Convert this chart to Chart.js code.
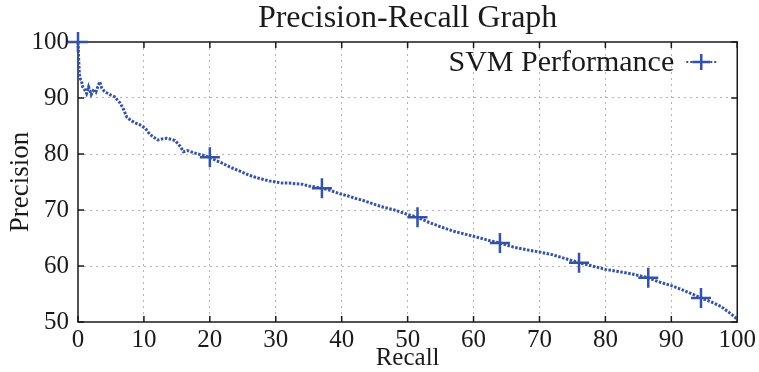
<!DOCTYPE html>
<html><head><meta charset="utf-8">
<script src="https://cdn.jsdelivr.net/npm/chart.js@4.4.0/dist/chart.umd.min.js"></script>
<style>html,body{margin:0;padding:0;background:#fff;overflow:hidden}</style>
</head><body>
<canvas id="c" width="759" height="372" style="width:759px;height:372px;display:block"></canvas>
<script>
const chartTitle = 'Precision-Recall Graph';
const xTitle = 'Recall';
const yTitle = 'Precision';
const seriesName = 'SVM Performance';
const xTicks = [0, 10, 20, 30, 40, 50, 60, 70, 80, 90, 100];
const yTicks = [50, 60, 70, 80, 90, 100];
const recall = [0, 0.1, 0.2, 0.3, 0.5, 0.7, 1.0, 1.3, 1.6, 2.0, 2.3, 2.7, 3.0, 3.3, 3.6, 4.0, 4.4, 5.0, 5.6, 6.0, 6.4, 6.9, 7.4, 8.0, 8.6, 9.4, 10.2, 10.9, 11.5, 12.1, 12.8, 13.5, 14.2, 14.7, 15.2, 15.6, 16.0, 16.6, 17.4, 18.2, 18.9, 20.0, 21.0, 22.0, 23.0, 24.0, 25.0, 26.0, 27.0, 28.0, 29.0, 30.0, 31.0, 32.0, 33.0, 34.0, 35.0, 36.0, 37.0, 38.0, 39.0, 40.0, 41.0, 42.0, 43.0, 44.0, 45.0, 46.0, 47.0, 48.0, 49.0, 50.0, 51.5, 53.0, 55.0, 57.0, 59.0, 61.0, 62.5, 64.0, 66.0, 68.0, 70.0, 72.0, 74.0, 76.0, 78.0, 80.0, 82.0, 84.0, 86.5, 88.0, 90.0, 92.0, 94.5, 96.0, 97.5, 99.0, 100.0];
const precision = [100, 97, 94.5, 93.5, 93.2, 92.0, 91.5, 90.8, 92.0, 90.6, 91.3, 91.0, 92.0, 92.9, 91.8, 91.2, 90.9, 90.5, 90.2, 89.6, 89.1, 88.0, 86.6, 86.0, 85.6, 85.2, 84.6, 83.5, 83.0, 82.5, 82.7, 82.8, 82.6, 82.4, 81.8, 81.2, 80.4, 80.6, 80.3, 80.0, 79.8, 79.4, 78.8, 78.3, 77.7, 77.2, 76.7, 76.2, 75.8, 75.5, 75.2, 75.0, 74.8, 74.8, 74.7, 74.6, 74.3, 74.1, 73.9, 73.6, 73.2, 72.8, 72.5, 72.1, 71.8, 71.4, 71.0, 70.6, 70.3, 70.0, 69.6, 69.2, 68.7, 67.9, 67.0, 66.2, 65.6, 65.0, 64.5, 64.1, 63.4, 62.9, 62.5, 62.0, 61.3, 60.6, 60.0, 59.4, 59.0, 58.6, 57.9, 57.2, 56.5, 55.6, 54.3, 53.6, 52.8, 51.5, 50.5];
const markerRecall = [0, 20, 37, 51.5, 64, 76, 86.5, 94.5];

const FONT = "'Liberation Serif', 'DejaVu Serif', serif";
const BLUE = '#3352a8';
const GRID = '#b4b4b4';
const INK = '#1a1a1a';

const framePlugin = {
  id: 'frame',
  beforeDatasetsDraw(chart) {
    const {ctx, chartArea: a, scales} = chart;
    ctx.save();
    ctx.strokeStyle = INK;
    ctx.lineWidth = 1.5;
    ctx.setLineDash([]);
    const L = 6;
    ctx.beginPath();
    xTicks.forEach(v => {
      const px = scales.x.getPixelForValue(v);
      ctx.moveTo(px, a.bottom); ctx.lineTo(px, a.bottom - L);
      ctx.moveTo(px, a.top); ctx.lineTo(px, a.top + L);
    });
    yTicks.forEach(v => {
      const py = scales.y.getPixelForValue(v);
      ctx.moveTo(a.left, py); ctx.lineTo(a.left + L, py);
      ctx.moveTo(a.right, py); ctx.lineTo(a.right - L, py);
    });
    ctx.stroke();
    ctx.strokeRect(a.left, a.top, a.right - a.left, a.bottom - a.top);
    ctx.restore();
  }
};

const legendPlugin = {
  id: 'keybox',
  afterDatasetsDraw(chart) {
    const {ctx, chartArea: a} = chart;
    const yMid = a.top + 20;
    const xEnd = a.right - 63;
    ctx.save();
    ctx.font = "30px " + FONT;
    ctx.fillStyle = INK;
    ctx.textAlign = 'right';
    ctx.textBaseline = 'middle';
    ctx.fillText(seriesName, xEnd, yMid + 1);
    const s0 = xEnd + 12, s1 = a.right - 21, cx = (s0 + s1) / 2;
    ctx.strokeStyle = BLUE;
    ctx.lineWidth = 2;
    ctx.setLineDash([2, 2]);
    ctx.beginPath(); ctx.moveTo(s0, yMid); ctx.lineTo(s1, yMid); ctx.stroke();
    ctx.setLineDash([]);
    ctx.lineWidth = 2.5;
    ctx.beginPath();
    ctx.moveTo(cx - 9, yMid); ctx.lineTo(cx + 9, yMid);
    ctx.moveTo(cx, yMid - 8); ctx.lineTo(cx, yMid + 8);
    ctx.stroke();
    ctx.restore();
  }
};

const gridColor = (ctx, edges) => (edges.includes(ctx.tick && ctx.tick.value) ? 'rgba(0,0,0,0)' : GRID);

new Chart(document.getElementById('c'), {
  type: 'line',
  data: {
    datasets: [{
      label: seriesName,
      data: recall.map((r, i) => ({x: r, y: precision[i]})),
      borderColor: BLUE,
      borderWidth: 3,
      borderDash: [2.5, 1.5],
      tension: 0,
      fill: false,
      clip: false,
      pointStyle: 'cross',
      pointRadius: c => (c.raw && markerRecall.includes(c.raw.x) ? 10 : 0),
      pointHoverRadius: 0,
      pointBorderWidth: 2.5,
      pointBorderColor: BLUE,
      pointBackgroundColor: BLUE
    }]
  },
  options: {
    responsive: false,
    animation: false,
    devicePixelRatio: 1,
    layout: {padding: {left: 0, right: 21, top: 0, bottom: 0}},
    plugins: {
      legend: {display: false},
      tooltip: {enabled: false},
      title: {
        display: true, text: chartTitle, color: INK, fullSize: false,
        font: {family: FONT, size: 32, weight: 'normal', lineHeight: 1},
        padding: {top: 3, bottom: 7}
      }
    },
    scales: {
      x: {
        type: 'linear', min: 0, max: 100,
        afterBuildTicks: s => { s.ticks = xTicks.map(v => ({value: v})); },
        afterFit: s => { s.height = 50; },
        ticks: {color: INK, font: {family: FONT, size: 25}, padding: 3, maxRotation: 0, autoSkip: false},
        grid: {color: c => gridColor(c, [0, 100]), lineWidth: 1, drawTicks: false},
        border: {display: false, dash: [2, 4]},
        title: {display: true, text: xTitle, color: INK, font: {family: FONT, size: 25, lineHeight: 1.1}, padding: 0}
      },
      y: {
        type: 'linear', min: 50, max: 100,
        afterBuildTicks: s => { s.ticks = yTicks.map(v => ({value: v})); },
        afterFit: s => { s.width = 78; },
        ticks: {color: INK, font: {family: FONT, size: 25}, padding: 9},
        grid: {color: c => gridColor(c, [50, 100]), lineWidth: 1, drawTicks: false},
        border: {display: false, dash: [2, 4]},
        title: {display: true, text: yTitle, color: INK, font: {family: FONT, size: 27, lineHeight: 1.1}, padding: {top: 6, bottom: 0}}
      }
    }
  },
  plugins: [framePlugin, legendPlugin]
});
</script>
</body></html>
